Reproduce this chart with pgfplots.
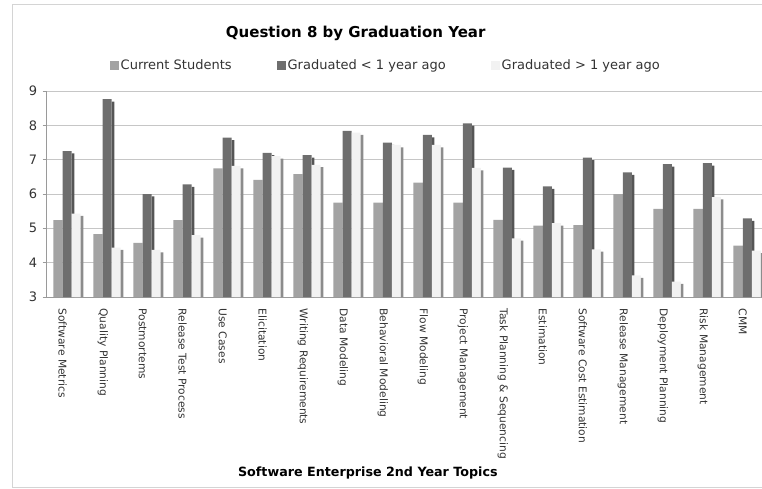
\documentclass[border=0pt]{standalone}
\usepackage{fontspec}
\setmainfont{DejaVu Sans}
\usepackage{pgfplots}
\pgfplotsset{compat=1.18}
\usepackage{pgfplotstable}

\definecolor{curgray}{HTML}{A3A3A3}
\definecolor{newgray}{HTML}{6E6E6E}
\definecolor{newside}{HTML}{565656}
\definecolor{oldgray}{HTML}{F2F2F2}
\definecolor{oldside}{HTML}{8C8C8C}
\definecolor{gridgray}{HTML}{C6C6C6}
\definecolor{axisgray}{HTML}{9A9A9A}
\definecolor{framegray}{HTML}{D4D4D4}

% mean rating per topic: current students, graduated <1 year, graduated >1 year
\pgfplotstableread{
idx cur  new  old
0   5.24 7.25 5.43
1   4.83 8.76 4.44
2   4.58 6.00 4.37
3   5.24 6.28 4.80
4   6.75 7.64 6.82
5   6.41 7.20 7.10
6   6.58 7.13 6.85
7   5.75 7.84 7.79
8   5.75 7.50 7.43
9   6.33 7.72 7.43
10  5.75 8.06 6.76
11  5.25 6.77 4.71
12  5.08 6.22 5.15
13  5.09 7.06 4.39
14  6.00 6.63 3.63
15  5.57 6.87 3.45
16  5.57 6.90 5.91
17  4.50 5.29 4.35
}\topics

\begin{document}
\begin{tikzpicture}[x=1pt,y=1pt]
\useasboundingbox (0,0) rectangle (762,488);
% chart frame
\draw[framegray, line width=1pt] (12,1) -- (12,483) -- (780,483);
\draw[framegray, line width=1pt] (12,1) -- (780,1);
\begin{axis}[
  at={(46.7pt,191pt)}, anchor=south west,
  scale only axis, width=715.3pt, height=206pt,
  xmin=-0.5, xmax=17.38, ymin=3, ymax=9,
  axis x line*=bottom, axis y line*=left,
  axis line style={axisgray, line width=0.8pt},
  ytick={3,4,5,6,7,8,9},
  /pgf/number format/assume math mode=true,
  ymajorgrids, grid style={gridgray, line width=1pt},
  ytick style={axisgray, line width=0.8pt},
  tick align=outside, major tick length=4pt,
  yticklabel style={font=\fontsize{13}{15}\selectfont, text=black!80, xshift=-2pt},
  xtick={-0.1,0.9,...,16.9},
  xticklabels={Software Metrics, Quality Planning, Postmortems, Release Test Process, Use Cases, Elicitation, Writing Requirements, Data Modeling, Behavioral Modeling, Flow Modeling, Project Management, Task Planning \& Sequencing, Estimation, Software Cost Estimation, Release Management, Deployment Planning, Risk Management, CMM},
  xticklabel style={rotate=-90, anchor=west, font=\fontsize{10.7}{12}\selectfont, text=black!80, xshift=4pt},
  xtick style={draw=none},
  minor xtick={-0.5,0.5,...,16.5},
  minor tick length=4pt,
  minor x tick style={axisgray, line width=0.8pt},
  title={Question 8 by Graduation Year},
  title style={at={(axis description cs:0.432,1.252)}, anchor=center, font=\bfseries\fontsize{15}{17}\selectfont},
  xlabel={Software Enterprise 2nd Year Topics},
  xlabel style={at={(axis description cs:0.449,-0.855)}, anchor=center, font=\bfseries\fontsize{12.7}{14}\selectfont},
  legend columns=3,
  legend style={at={(axis description cs:0.474,1.126)}, anchor=center, draw=none, fill=none,
    font=\fontsize{13}{15}\selectfont, text=black!80,
    /tikz/every even column/.append style={column sep=43pt},
    nodes={inner xsep=2pt}},
  legend image code/.code={\fill[#1] (0pt,-4.5pt) rectangle (9pt,4.5pt);},
  clip=true,
]
\addplot[ybar, bar width=0.235, bar shift=0pt, fill=curgray, draw=none]
  table[x expr=\thisrow{idx}-0.2175, y=cur] {\topics};
\addplot[ybar, bar width=0.065, bar shift=0pt, fill=newside, draw=none, forget plot]
  table[x expr=\thisrow{idx}+0.158, y expr=\thisrow{new}-0.07] {\topics};
\addplot[ybar, bar width=0.225, bar shift=0pt, fill=newgray, draw=none]
  table[x expr=\thisrow{idx}+0.0125, y=new] {\topics};
\addplot[ybar, bar width=0.225, bar shift=0pt, fill=oldgray, draw=none]
  table[x expr=\thisrow{idx}+0.2375, y=old] {\topics};
\addplot[ybar, bar width=0.065, bar shift=0pt, fill=oldside, draw=none, forget plot]
  table[x expr=\thisrow{idx}+0.3825, y expr=\thisrow{old}-0.07] {\topics};
\legend{Current Students, Graduated < 1 year ago, Graduated > 1 year ago}
\end{axis}
\end{tikzpicture}
\end{document}
